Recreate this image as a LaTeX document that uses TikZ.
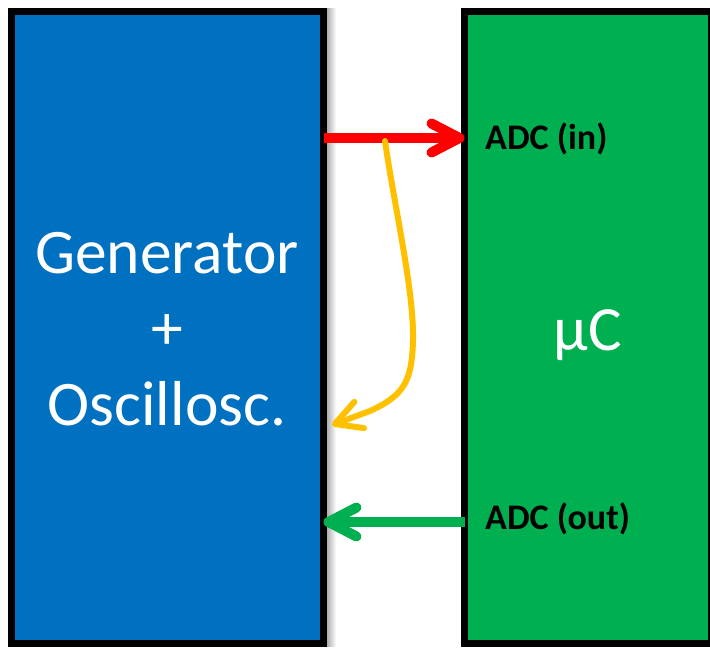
\documentclass[tikz,border=0pt]{standalone}
\usepackage{fontspec}
\setmainfont{Carlito}
\usetikzlibrary{arrows.meta}
\definecolor{boxblue}{HTML}{0070C0}
\definecolor{boxgreen}{HTML}{00B050}
\definecolor{sigred}{HTML}{FF0000}
\definecolor{sigyellow}{HTML}{FFC000}
\definecolor{siggreen}{HTML}{00B050}
\begin{document}
\begin{tikzpicture}[x=1pt,y=-1pt,
  blk/.style={draw=black,line width=7pt,outer sep=0pt,inner sep=0pt,anchor=north west,rectangle},
  bigtext/.style={text=white,font=\fontsize{63.5}{76}\selectfont,inner sep=0pt},
  adclabel/.style={text=black,font=\fontsize{36}{40}\selectfont\bfseries,inner sep=0pt,anchor=base west},
  redarr/.style={draw=sigred,line width=10pt,-{Straight Barb[length=28pt,width=29pt,round]}},
  greenarr/.style={draw=siggreen,line width=10pt,-{Straight Barb[length=28pt,width=29pt,round]}},
  yelarr/.style={draw=sigyellow,line width=6pt,line cap=round,-{Straight Barb[length=26pt,width=28pt,round]}}
]
\useasboundingbox (0,0) rectangle (710,648);
% soft shadow right of the blue box
\shade[left color=black!35,right color=white] (326,8) rectangle (336,646);
\node[blk,fill=boxblue,minimum width=312.5pt,minimum height=632pt] (gen) at (11,11) {};
\node[blk,fill=boxgreen,minimum width=246.5pt,minimum height=632pt] (uc) at (464.5,11) {};
\node[bigtext,align=center] (genl) at (167,329) {Generator\\+\\Oscillosc.};
\node[bigtext,font=\fontsize{63}{70}\selectfont,anchor=base] (ucl) at (588,350) {µC};
\node[adclabel] (ain) at (485,149) {ADC (in)};
\node[adclabel] (aout) at (485,529) {ADC (out)};
\coordinate (ys) at (385,141);
\coordinate (ye) at (332,425);
\draw[redarr] (gen.east |- 0,138) -- (uc.west |- 0,138);
\draw[greenarr] (uc.west |- 0,522) -- (gen.east |- 0,522);
\draw[yelarr] (ys) .. controls (395,210) and (414,290) .. (413,340)
  .. controls (412,380) and (405,395) .. (370,411) -- (ye);
\end{tikzpicture}
\end{document}
